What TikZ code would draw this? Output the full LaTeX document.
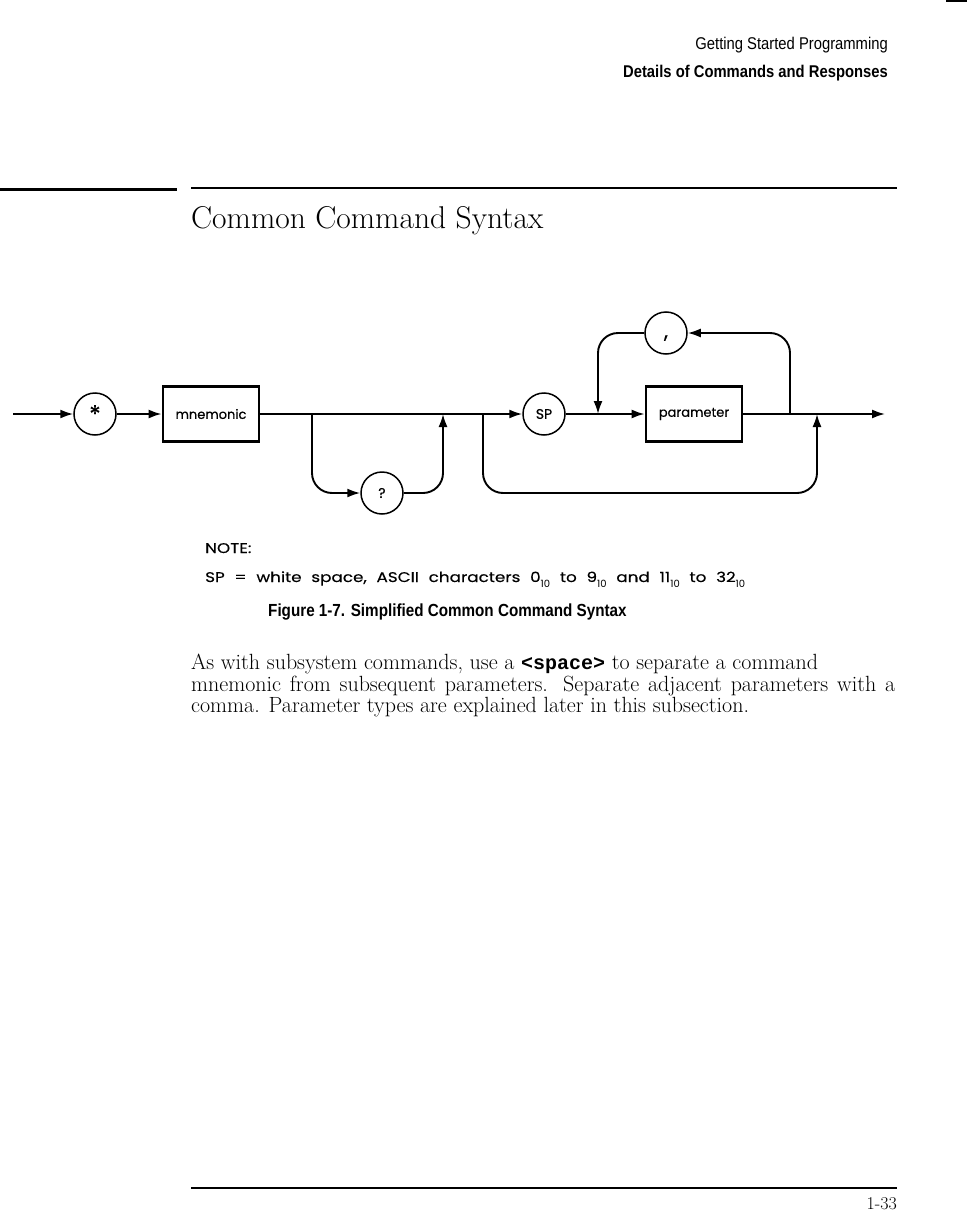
\documentclass[tikz,border=0pt]{standalone}
\usepackage{fontspec}
\newfontfamily\diagfont[FakeBold=0.5]{Poppins}
\newfontfamily\notefont[FakeStretch=1.2,FakeBold=0.3]{Poppins}
\newfontfamily\subfont{Poppins}
\newfontfamily\condfont[FakeStretch=0.87]{Liberation Sans}
\newfontfamily\codefont{Liberation Mono}
\usetikzlibrary{arrows.meta}
\newcommand{\subten}{\raisebox{-5pt}{\subfont\fontsize{10}{10}\selectfont 10}}

\begin{document}
\begin{tikzpicture}[x=1pt,y=-1pt]
    \tikzset{term/.style = {shape=circle,draw,line width=1.5pt,minimum size=42pt,inner sep=0pt,font=\diagfont\fontsize{14}{14}\selectfont}}
    \tikzset{nonterm/.style = {shape=rectangle,draw,line width=2.8pt,minimum width=96pt,minimum height=55pt,inner sep=0pt,font=\diagfont\fontsize{13}{13}\selectfont}}
    \tikzset{edge/.style = {line width=1.9pt,rounded corners=20pt,> = {Latex[length=13pt,width=9pt]}}}
    \tikzset{label/.style = {anchor=base west,inner sep=0pt}}

    \useasboundingbox (0,0) rectangle (967,1212);

    % page header and rules
    \node[anchor=base east,inner sep=0pt,font=\condfont\fontsize{17}{17}\selectfont] (hdr1) at (888,50) {Getting Started Programming};
    \node[anchor=base east,inner sep=0pt,font=\condfont\bfseries\fontsize{17}{17}\selectfont] (hdr2) at (888,78) {Details of Commands and Responses};
    \draw[line width=2pt] (946,1) -- (967,1);
    \draw[line width=3pt] (0,189) -- (177,189);
    \draw[line width=1.2pt] (191,188) -- (897,188);
    \node[label,font=\fontsize{31.5}{31.5}\selectfont] (title) at (191,228) {Common Command Syntax};

    % vertices
    \node[term] (star) at (95,414) {\fontsize{24}{24}\selectfont *};
    \node[nonterm] (mnem) at (211,414) {mnemonic};
    \node[term] (quest) at (382,493) {?};
    \node[term] (sp) at (544,414) {SP};
    \node[nonterm] (param) at (694,414) {parameter};
    \node[term] (comma) at (666,333) {\fontsize{20}{20}\selectfont\raisebox{-5pt}[0pt][0pt]{,}};

    \coordinate (in) at (13,414);
    \coordinate (out) at (885,414);
    \coordinate (qa) at (312,414);
    \coordinate (qb) at (443,414);
    \coordinate (sa) at (483,414);
    \coordinate (sab) at (483,493);
    \coordinate (sbb) at (817,493);
    \coordinate (sb) at (817,414);
    \coordinate (ca) at (598,414);
    \coordinate (cb) at (790,414);

    % edges
    \draw[edge,->] (in) -- (star);
    \draw[edge,->] (star) -- (mnem);
    \draw[edge,->] (mnem) -- (sp);
    \draw[edge,->] (qa) |- (quest);
    \draw[edge,->] (quest) -| (qb);
    \draw[edge,->] (sa) -- (sab) -- (sbb) -- (sb);
    \draw[edge,->] (sp) -- (param);
    \draw[edge,->] (cb) |- (comma);
    \draw[edge,->] (comma) -| (ca);
    \draw[edge,->] (param) -- (out);

    % note and caption
    \node[label,font=\notefont\fontsize{14}{14}\selectfont] (note) at (205,553) {NOTE:};
    \node[label,font=\notefont\fontsize{14}{14}\selectfont] (spnote) at (205,582) {\hbox to 540pt{SP\hfil=\hfil white\hfil space,\hfil ASCII\hfil characters\hfil 0\subten\hfil to\hfil 9\subten\hfil and\hfil 11\subten\hfil to\hfil 32\subten}};
    \node[label,font=\condfont\bfseries\fontsize{17.5}{17.5}\selectfont] (caption) at (268,616) {Figure 1-7. Simplified Common Command Syntax};

    % body text
    \node[anchor=north west,inner sep=0pt,text width=704pt,align=justify,font=\fontsize{22}{21.5}\selectfont] (body) at (191,654) {As with subsystem commands, use a {\codefont\bfseries\fontsize{20}{20}\selectfont <space>} to separate a command\newline mnemonic from subsequent parameters. Separate adjacent parameters with a\linebreak comma. Parameter types are explained later in this subsection.};

    % footer
    \draw[line width=1.2pt] (191,1188) -- (897,1188);
    \node[anchor=base east,inner sep=0pt,font=\fontsize{18}{18}\selectfont] (pageno) at (897,1209) {1-33};
\end{tikzpicture}
\end{document}
